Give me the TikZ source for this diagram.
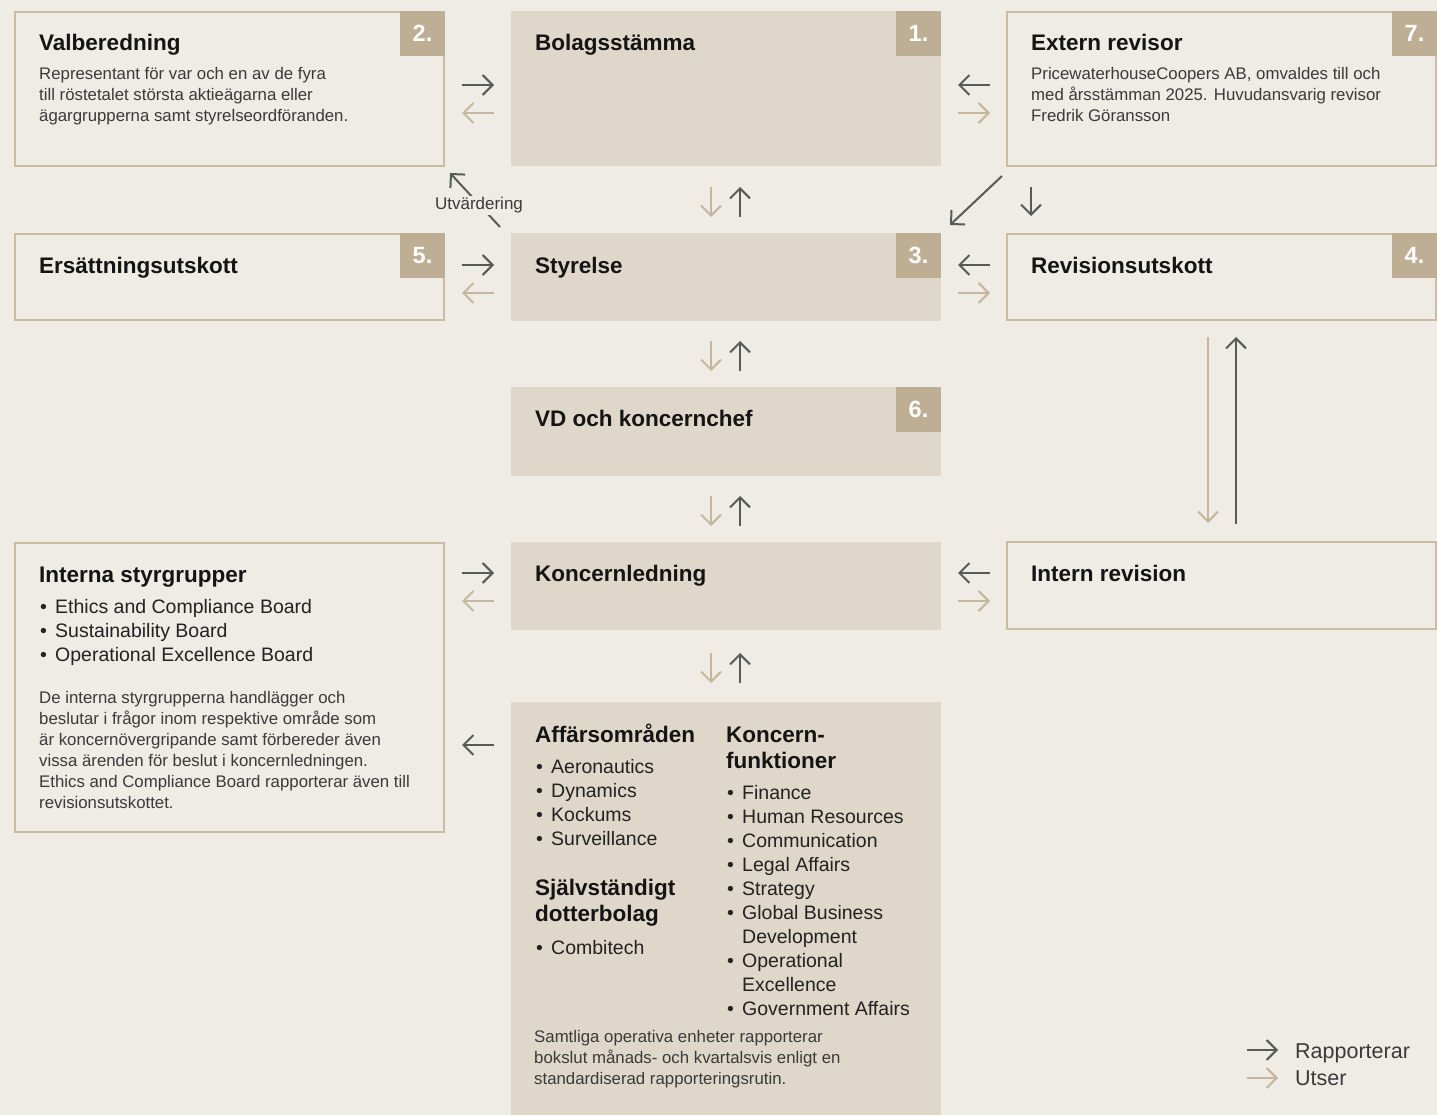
\documentclass[tikz,border=0pt]{standalone}
\usepackage{fontspec}
\setmainfont{Liberation Sans}
\usetikzlibrary{arrows.meta,calc}
\definecolor{bgc}{HTML}{EFECE6}
\definecolor{fillc}{HTML}{DFD7CA}
\definecolor{badgec}{HTML}{BEAE94}
\definecolor{borderc}{HTML}{C9BBA4}
\definecolor{darkar}{HTML}{565B58}
\definecolor{tanar}{HTML}{C6B69D}
\definecolor{headc}{HTML}{141414}
\definecolor{bodyc}{HTML}{3A3A3A}
\definecolor{bulc}{HTML}{222222}
\newcommand{\myhead}{\fontsize{22.5}{26}\selectfont\bfseries}
\newcommand{\mydesc}{\fontsize{16.8}{21}\selectfont}
\newcommand{\mylist}{\fontsize{19.5}{24}\selectfont}
\newcommand{\mybp}{\makebox[16pt][l]{\hspace{1pt}\textbullet}}
\newcommand{\myind}{\hspace*{16pt}}
\begin{document}
\begin{tikzpicture}[x=1pt,y=-1pt,
  outbox/.style={draw=borderc, line width=2pt, fill=bgc, anchor=north west, inner sep=0pt, outer sep=0pt},
  fillbox/.style={fill=fillc, draw=none, anchor=north west, inner sep=0pt, outer sep=0pt},
  badge/.style={fill=badgec, anchor=north east, minimum width=45pt, minimum height=45pt, inner sep=0pt, outer sep=0pt, text=white, font=\fontsize{23.5}{23.5}\selectfont\bfseries},
  head/.style={anchor=base west, inner sep=0pt, text=headc, font=\myhead},
  desc/.style={anchor=base west, inner sep=0pt, text=bodyc, font=\mydesc},
  blist/.style={anchor=base west, inner sep=0pt, text=bulc, font=\mylist},
  rep/.style={draw=darkar, line width=2pt, -{Straight Barb[length=10pt,width=20pt]}},
  sup/.style={draw=tanar, line width=2pt, -{Straight Barb[length=10pt,width=20pt]}},
]
\useasboundingbox[fill=bgc] (0,0) rectangle (1437,1115);

% boxes
\node[outbox, minimum width=429pt, minimum height=154pt] (val) at (15,12) {};
\node[fillbox, minimum width=430pt, minimum height=155pt] (bol) at (511,11) {};
\node[outbox, minimum width=429pt, minimum height=154pt] (ext) at (1007,12) {};
\node[outbox, minimum width=429pt, minimum height=86pt] (ers) at (15,234) {};
\node[fillbox, minimum width=430pt, minimum height=88pt] (sty) at (511,233) {};
\node[outbox, minimum width=429pt, minimum height=86pt] (rev) at (1007,234) {};
\node[fillbox, minimum width=430pt, minimum height=89pt] (vd) at (511,387) {};
\node[outbox, minimum width=429pt, minimum height=289pt] (int) at (15,543) {};
\node[fillbox, minimum width=430pt, minimum height=88pt] (kl) at (511,542) {};
\node[outbox, minimum width=429pt, minimum height=87pt] (irev) at (1007,542) {};
\node[fillbox, minimum width=430pt, minimum height=413pt] (big) at (511,702) {};

% badges
\node[badge] (b2) at ($(val.north east)+(1,-1)$) {2.};
\node[badge] (b1) at (bol.north east) {1.};
\node[badge] (b7) at ($(ext.north east)+(1,-1)$) {7.};
\node[badge] (b5) at ($(ers.north east)+(1,-1)$) {5.};
\node[badge] (b3) at (sty.north east) {3.};
\node[badge] (b4) at ($(rev.north east)+(1,-1)$) {4.};
\node[badge] (b6) at (vd.north east) {6.};

% headings and texts
\node[head] (valh) at ($(val.north west)+(24,39)$) {Valberedning};
\node[desc] (vald) at ($(val.north west)+(24,68)$) {\parbox[t]{400pt}{\raggedright
  Representant för var och en av de fyra\\
  till röstetalet största aktieägarna eller\\
  ägargrupperna samt styrelseordföranden.}};
\node[head] (bolh) at ($(bol.north west)+(24,40)$) {Bolagsstämma};
\node[head] (exth) at ($(ext.north west)+(24,39)$) {Extern revisor};
\node[desc] (extd) at ($(ext.north west)+(24,68)$) {\parbox[t]{400pt}{\raggedright
  PricewaterhouseCoopers AB, omvaldes till och\\
  med årsstämman 2025. Huvudansvarig revisor\\
  Fredrik Göransson}};
\node[head] (ersh) at ($(ers.north west)+(24,39)$) {Ersättningsutskott};
\node[head] (styh) at ($(sty.north west)+(24,40)$) {Styrelse};
\node[head] (revh) at ($(rev.north west)+(24,39)$) {Revisionsutskott};
\node[head] (vdh) at ($(vd.north west)+(24,39)$) {VD och koncernchef};
\node[head] (klh) at ($(kl.north west)+(24,39)$) {Koncernledning};
\node[head] (irevh) at ($(irev.north west)+(24,39)$) {Intern revision};

\node[head] (inth) at ($(int.north west)+(24,39)$) {Interna styrgrupper};
\node[blist] (intl) at ($(int.north west)+(24,70)$) {\parbox[t]{400pt}{\raggedright
  \mybp Ethics and Compliance Board\\
  \mybp Sustainability Board\\
  \mybp Operational Excellence Board}};
\node[desc] (intd) at ($(int.north west)+(24,160.5)$) {\parbox[t]{400pt}{\raggedright
  De interna styrgrupperna handlägger och\\
  beslutar i frågor inom respektive område som\\
  är koncernövergripande samt förbereder även\\
  vissa ärenden för beslut i koncernledningen.\\
  Ethics and Compliance Board rapporterar även till\\
  revisionsutskottet.}};

% big box
\node[head] (afh) at ($(big.north west)+(24,40)$) {Affärsområden};
\node[blist] (afl) at ($(big.north west)+(24,71)$) {\parbox[t]{185pt}{\raggedright
  \mybp Aeronautics\\
  \mybp Dynamics\\
  \mybp Kockums\\
  \mybp Surveillance}};
\node[head] (sjh) at ($(big.north west)+(24,193.5)$) {\parbox[t]{185pt}{\raggedright\baselineskip=26pt
  Självständigt\\dotterbolag}};
\node[blist] (sjl) at ($(big.north west)+(24,252)$) {\parbox[t]{185pt}{\raggedright
  \mybp Combitech}};
\node[head] (kfh) at ($(big.north west)+(215,40)$) {\parbox[t]{200pt}{\raggedright\baselineskip=26pt
  Koncern-\\funktioner}};
\node[blist] (kfl) at ($(big.north west)+(215,97.5)$) {\parbox[t]{210pt}{\raggedright
  \mybp Finance\\
  \mybp Human Resources\\
  \mybp Communication\\
  \mybp Legal Affairs\\
  \mybp Strategy\\
  \mybp Global Business\\
  \myind Development\\
  \mybp Operational\\
  \myind Excellence\\
  \mybp Government Affairs}};
\node[desc] (bigd) at ($(big.north west)+(23,340)$) {\parbox[t]{400pt}{\raggedright
  Samtliga operativa enheter rapporterar\\
  bokslut månads- och kvartalsvis enligt en\\
  standardiserad rapporteringsrutin.}};

% horizontal arrow pairs
\draw[rep] ($(val.north east)+(18,73)$) -- ($(bol.north west)+(-17,74)$);
\draw[sup] ($(bol.north west)+(-17,102)$) -- ($(val.north east)+(18,101)$);
\draw[rep] ($(ext.north west)+(-17,73)$) -- ($(bol.north east)+(17,74)$);
\draw[sup] ($(bol.north east)+(17,102)$) -- ($(ext.north west)+(-17,101)$);

\draw[rep] ($(ers.north east)+(18,31)$) -- ($(sty.north west)+(-17,32)$);
\draw[sup] ($(sty.north west)+(-17,60)$) -- ($(ers.north east)+(18,59)$);
\draw[rep] ($(rev.north west)+(-17,31)$) -- ($(sty.north east)+(17,32)$);
\draw[sup] ($(sty.north east)+(17,60)$) -- ($(rev.north west)+(-17,59)$);

\draw[rep] ($(int.north east)+(18,30)$) -- ($(kl.north west)+(-17,31)$);
\draw[sup] ($(kl.north west)+(-17,59)$) -- ($(int.north east)+(18,58)$);
\draw[rep] ($(irev.north west)+(-17,31)$) -- ($(kl.north east)+(17,31)$);
\draw[sup] ($(kl.north east)+(17,59)$) -- ($(irev.north west)+(-17,59)$);

\draw[rep] ($(big.north west)+(-17,43)$) -- ($(int.north east)+(18,202)$);

% vertical arrow pairs
\draw[sup] ($(bol.south west)+(200,21)$) -- ($(sty.north west)+(200,-16)$);
\draw[rep] ($(sty.north west)+(229,-16)$) -- ($(bol.south west)+(229,21)$);
\draw[sup] ($(sty.south west)+(200,20)$) -- ($(vd.north west)+(200,-16)$);
\draw[rep] ($(vd.north west)+(229,-16)$) -- ($(sty.south west)+(229,20)$);
\draw[sup] ($(vd.south west)+(200,20)$) -- ($(kl.north west)+(200,-16)$);
\draw[rep] ($(kl.north west)+(229,-16)$) -- ($(vd.south west)+(229,20)$);
\draw[sup] ($(kl.south west)+(200,23)$) -- ($(big.north west)+(200,-19)$);
\draw[rep] ($(big.north west)+(229,-19)$) -- ($(kl.south west)+(229,23)$);

% revisionsutskott <-> intern revision
\draw[sup] ($(rev.south west)+(201,17)$) -- ($(irev.north west)+(201,-19)$);
\draw[rep] ($(irev.north west)+(229,-18)$) -- ($(rev.south west)+(229,17)$);

% extern revisor
\draw[rep] ($(ext.south west)+(-5,10)$) -- ($(sty.north east)+(9,-8)$);
\draw[rep] ($(ext.south west)+(24,21)$) -- ($(rev.north west)+(24,-18)$);

% utvardering
\draw[rep] ($(sty.north west)+(-11,-6)$) -- ($(val.south east)+(6,7)$);
\node[fill=bgc, inner xsep=0pt, inner ysep=2pt, text=bodyc, font=\fontsize{17}{17}\selectfont] (utv) at (479,205.5) {Utvärdering};

% legend
\coordinate (l1a) at (1247,1050);
\coordinate (l1b) at (1278,1050);
\coordinate (l2a) at (1247,1078);
\coordinate (l2b) at (1278,1078);
\draw[rep] (l1a) -- (l1b);
\draw[sup] (l2a) -- (l2b);
\node[anchor=base west, inner sep=0pt, text=bodyc, font=\fontsize{21.5}{24}\selectfont] (leg1) at (1295,1058) {Rapporterar};
\node[anchor=base west, inner sep=0pt, text=bodyc, font=\fontsize{21.5}{24}\selectfont] (leg2) at (1295,1085) {Utser};
\end{tikzpicture}
\end{document}
